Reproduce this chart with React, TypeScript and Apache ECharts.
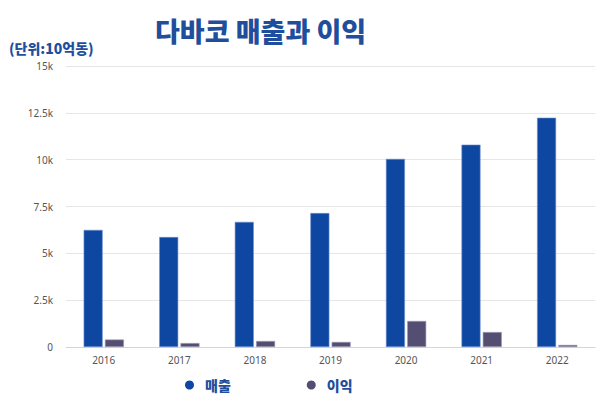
import React, { useEffect, useRef } from "react";
import * as echarts from "echarts";

const years = ["2016", "2017", "2018", "2019", "2020", "2021", "2022"];
const revenue = [6250, 5870, 6680, 7150, 10040, 10800, 12240];
const profit = [400, 210, 320, 270, 1390, 800, 110];
const yTicks = ["0", "2.5k", "5k", "7.5k", "10k", "12.5k", "15k"];

export default function App() {
  const ref = useRef<HTMLDivElement>(null);
  useEffect(() => {
    const chart = echarts.init(ref.current!, undefined, { renderer: "svg" });
    chart.setOption({
      animation: false,
      backgroundColor: "#ffffff",
      title: [
        {
          text: "다바코 매출과 이익",
          left: 150,
          top: 12,
          textStyle: { fontFamily: "Noto Sans CJK KR", fontSize: 27, fontWeight: 900, color: "#1f4e9c" },
        },
        {
          text: "(단위:10억동)",
          left: 4,
          top: 36,
          textStyle: { fontFamily: "Noto Sans CJK KR", fontSize: 14, fontWeight: 900, color: "#1f4e9c" },
        },
      ],
      legend: {
        bottom: 1,
        left: 180,
        itemGap: 76,
        icon: "circle",
        itemWidth: 9,
        itemHeight: 9,
        itemStyle: { borderWidth: 0 },
        textStyle: {
          fontFamily: "Noto Sans CJK KR",
          fontSize: 14,
          fontWeight: 900,
          color: "#1f4e9c",
          padding: [0, 0, 0, 6],
        },
        data: ["매출", "이익"],
      },
      grid: { left: 66, right: 5, top: 66, bottom: 51 },
      xAxis: {
        type: "category",
        data: years,
        axisLine: { lineStyle: { color: "#ccd6eb" } },
        axisTick: { show: false },
        axisLabel: { color: "#555", fontSize: 10, fontFamily: "Noto Sans", margin: 8 },
      },
      yAxis: {
        type: "value",
        min: 0,
        max: 15000,
        interval: 2500,
        axisLine: { show: false },
        axisTick: { show: false },
        splitLine: { lineStyle: { color: "#e6e6e6" } },
        axisLabel: {
          color: "#555",
          fontSize: 10,
          fontFamily: "Noto Sans",
          margin: 13,
          formatter: (v: number) => yTicks[Math.round(v / 2500)] ?? "",
        },
      },
      series: [
        {
          name: "매출",
          type: "bar",
          data: revenue,
          barWidth: 19,
          barGap: "12%",
          itemStyle: { color: "#0d47a1", borderColor: "#6f8fd0", borderWidth: 0.6 },
        },
        {
          name: "이익",
          type: "bar",
          data: profit,
          barWidth: 19,
          itemStyle: { color: "#544f72", borderColor: "#9a98b4", borderWidth: 0.6 },
        },
      ],
    });
    return () => chart.dispose();
  }, []);
  return <div ref={ref} style={{ width: 600, height: 398, position: "fixed", left: 0, top: 0 }} />;
}
